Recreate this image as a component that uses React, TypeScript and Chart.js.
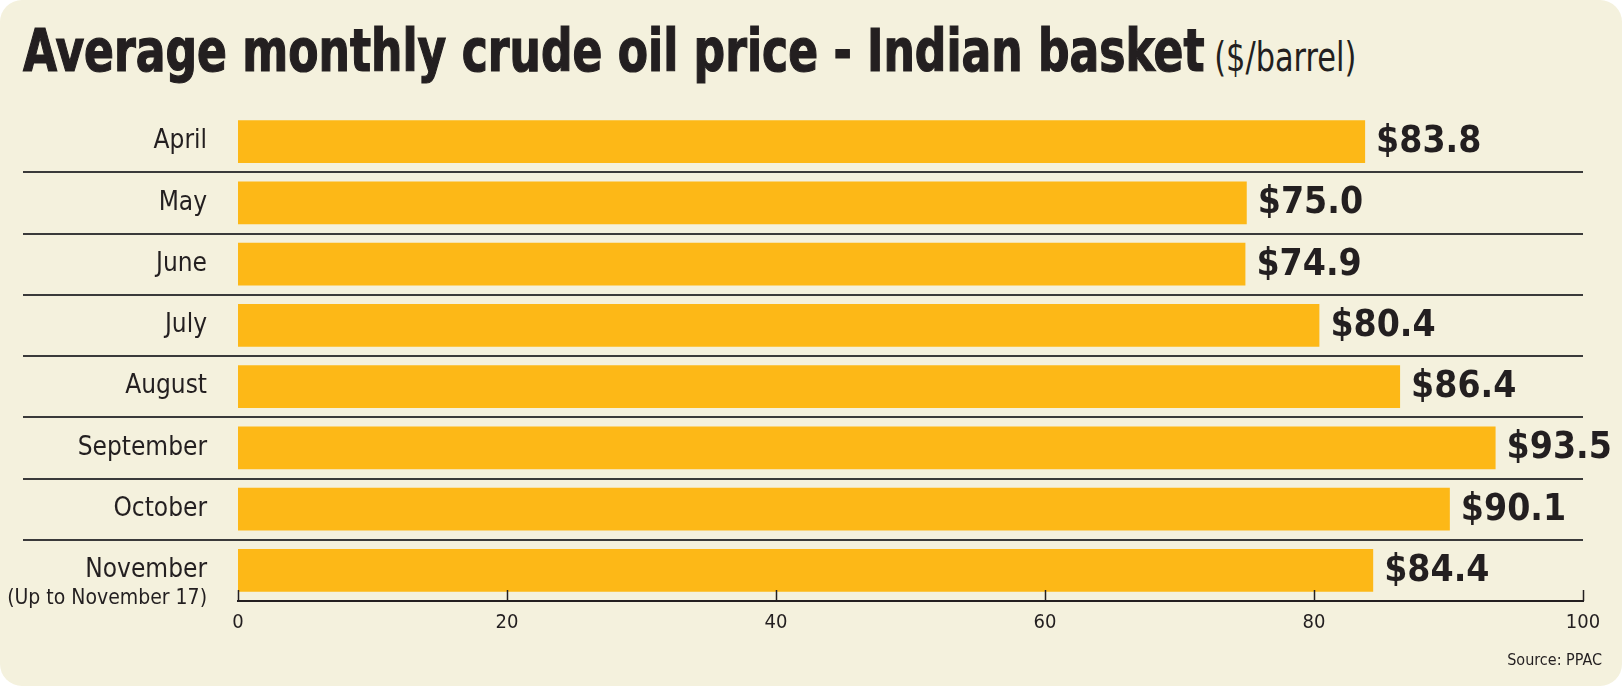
import React, { useEffect, useRef } from "react";
import { Chart, registerables } from "chart.js";

Chart.register(...registerables);

const months = ["April", "May", "June", "July", "August", "September", "October", "November"];
const prices = [83.8, 75.0, 74.9, 80.4, 86.4, 93.5, 90.1, 84.4];
const xTickValues = [0, 20, 40, 60, 80, 100];
const novemberNote = "(Up to November 17)";
const titleMain = "Average monthly crude oil price - Indian basket";
const titleUnit = "($/barrel)";
const sourceText = "Source: PPAC";

const NARROW = '"DejaVu Sans Condensed", "Liberation Sans Narrow", sans-serif';
const COND = '"DejaVu Sans Condensed", "Liberation Sans Narrow", sans-serif';
const INK = "#231F20";
const BAR = "#FDB817";
const CREAM = "#F4F1DD";

const overlayPlugin = {
  id: "overlay",
  afterDatasetsDraw(chart: any) {
    const { ctx, chartArea, scales } = chart;
    const xs = scales.x;
    const ys = scales.y;
    ctx.save();
    // separators between categories
    ctx.strokeStyle = "#3a3a3a";
    ctx.lineWidth = 2;
    for (let i = 0; i < months.length - 1; i++) {
      const py = Math.round((ys.getPixelForValue(i) + ys.getPixelForValue(i + 1)) / 2);
      ctx.beginPath();
      ctx.moveTo(23, py);
      ctx.lineTo(chartArea.right, py);
      ctx.stroke();
    }
    // upward tick marks on the x axis
    ctx.strokeStyle = INK;
    ctx.lineWidth = 1.5;
    xTickValues.forEach((v) => {
      const px = Math.round(xs.getPixelForValue(v)) + 0.5;
      ctx.beginPath();
      ctx.moveTo(px, chartArea.bottom);
      ctx.lineTo(px, chartArea.bottom - 11);
      ctx.stroke();
    });
    // value labels
    const meta = chart.getDatasetMeta(0);
    ctx.fillStyle = INK;
    ctx.font = `bold 37px ${COND}`;
    ctx.textAlign = "left";
    ctx.textBaseline = "middle";
    meta.data.forEach((bar: any, i: number) => {
      ctx.fillText("$" + prices[i].toFixed(1), bar.x + 11, bar.y + 1);
    });
    // note under the November label
    ctx.font = `21px ${NARROW}`;
    ctx.textAlign = "right";
    ctx.fillText(novemberNote, chartArea.left - 31, ys.getPixelForValue(months.length - 1) + 28);
    ctx.restore();
  },
};

export default function App() {
  const canvasRef = useRef<HTMLCanvasElement | null>(null);

  useEffect(() => {
    const prevMargin = document.body.style.margin;
    document.body.style.margin = "0";
    const chart = new Chart(canvasRef.current as HTMLCanvasElement, {
      type: "bar",
      data: {
        labels: months,
        datasets: [
          {
            data: prices,
            backgroundColor: BAR,
            borderWidth: 0,
            categoryPercentage: 1,
            barPercentage: 0.7,
          },
        ],
      },
      options: {
        indexAxis: "y",
        animation: false,
        responsive: false,
        maintainAspectRatio: false,
        layout: { padding: { top: 111, right: 39, bottom: 0, left: 0 } },
        plugins: { legend: { display: false }, tooltip: { enabled: false }, title: { display: false } },
        scales: {
          x: {
            min: 0,
            max: 100,
            afterFit: (s: any) => {
              s.height = 85;
            },
            afterBuildTicks: (s: any) => {
              s.ticks = xTickValues.map((v) => ({ value: v }));
            },
            grid: { display: false, drawTicks: false },
            border: { display: true, color: INK, width: 2 },
            ticks: {
              padding: 10,
              color: INK,
              font: { family: NARROW, size: 20 },
            },
          },
          y: {
            afterFit: (s: any) => {
              s.width = 238;
            },
            grid: { display: false, drawTicks: false },
            border: { display: false },
            ticks: {
              padding: 31,
              color: INK,
              font: { family: NARROW, size: 26 },
            },
          },
        },
      },
      plugins: [overlayPlugin],
    });
    return () => {
      chart.destroy();
      document.body.style.margin = prevMargin;
    };
  }, []);

  return (
    <div style={{ position: "fixed", left: 0, top: 0, width: 1622, height: 686, background: "#ffffff" }}>
      <div
        style={{
          position: "absolute",
          left: 0,
          top: 0,
          width: 1622,
          height: 686,
          background: CREAM,
          borderRadius: 22,
        }}
      />
      <div
        style={{
          position: "absolute",
          left: 23,
          top: 13,
          whiteSpace: "nowrap",
          color: INK,
          lineHeight: "76px",
          transform: "scaleX(0.845)",
          transformOrigin: "left top",
        }}
      >
        <span
          style={{
            fontFamily: NARROW,
            fontWeight: "bold",
            fontSize: 58,
            WebkitTextStroke: `1.2px ${INK}`,
          }}
        >
          {titleMain}
        </span>
        <span style={{ fontFamily: NARROW, fontSize: 40 }}> {titleUnit}</span>
      </div>
      <canvas ref={canvasRef} width={1622} height={686} style={{ position: "absolute", left: 0, top: 0 }} />
      <div
        style={{
          position: "absolute",
          right: 20,
          top: 650,
          fontFamily: NARROW,
          fontSize: 16,
          color: INK,
          whiteSpace: "nowrap",
        }}
      >
        {sourceText}
      </div>
    </div>
  );
}
